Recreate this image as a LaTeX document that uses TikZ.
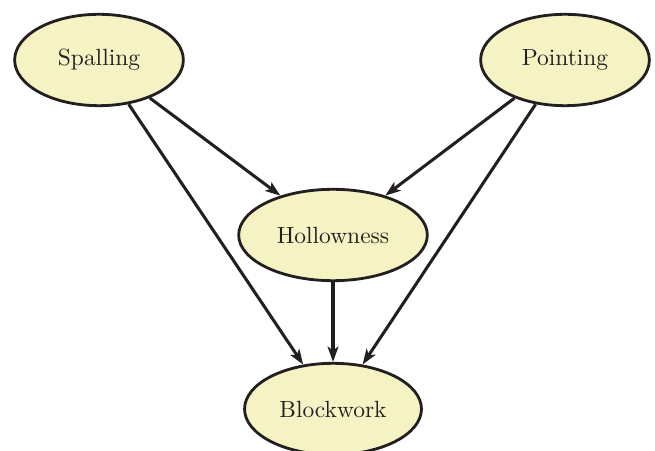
\documentclass[tikz,border=0pt]{standalone}
\usepackage{tikz}
\usetikzlibrary{arrows.meta,shapes}
\definecolor{nodefill}{RGB}{245,242,196}
\definecolor{linecol}{RGB}{35,31,32}
\tikzstyle{vertex}=[ellipse,fill=nodefill,draw=linecol,line width=1.2pt,minimum height=39pt,inner sep=0pt,text=linecol]
\tikzstyle{edge} = [draw,line width=1.3pt,-{Stealth[length=6.5pt,width=4.6pt,inset=1.6pt]},linecol]

\begin{document}
\begin{tikzpicture}[x=0.15mm, y=0.15mm]
    \useasboundingbox (0,0) rectangle (655,450);

    \foreach \pos/\name/\w/\txt in {{(99,390)/spall/72pt/Spalling}, {(565,390)/point/72pt/Pointing}, {(333,215)/hollow/80.5pt/Hollowness}, {(333,41)/block/75.5pt/Blockwork}}
        \node[vertex,minimum width=\w] (\name) at \pos {\txt};

    % Connect vertices with edges
    \foreach \source/ \dest in {spall/hollow, spall/block, point/hollow, point/block, hollow/block}
        \path[edge] (\source) -- (\dest);

\end{tikzpicture}
\end{document}
